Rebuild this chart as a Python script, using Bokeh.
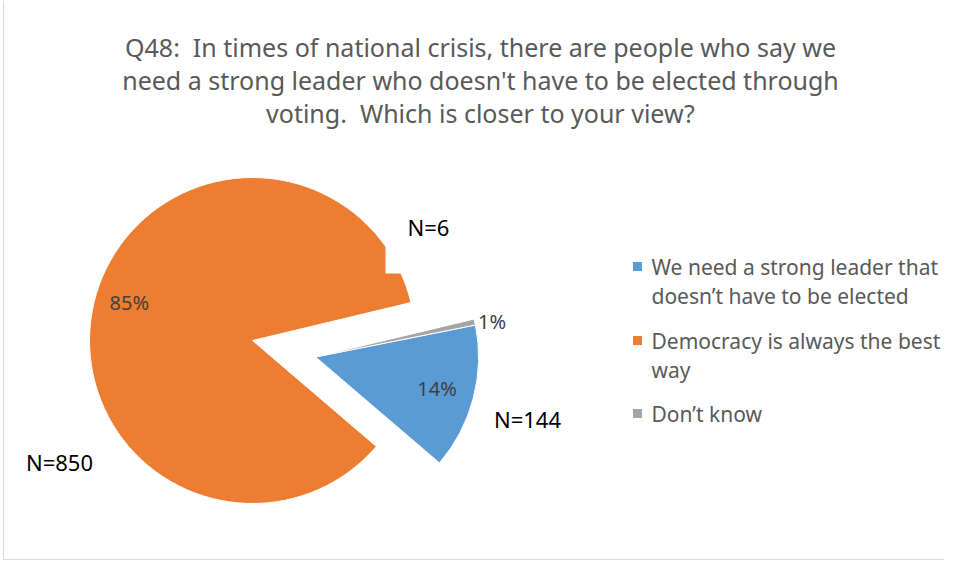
import math
from bokeh.plotting import figure
from bokeh.models import ColumnDataSource, Range1d
from bokeh.core.properties import value
from bokeh.embed import file_html
from bokeh.resources import INLINE

# ---- data ----
categories = ["We need a strong leader that doesn\u2019t have to be elected",
              "Democracy is always the best way",
              "Don\u2019t know"]
legend_lines = [["We need a strong leader that", "doesn\u2019t have to be elected"],
                ["Democracy is always the best", "way"],
                ["Don\u2019t know"]]
counts = [144, 850, 6]
pct_labels = ["14%", "85%", "1%"]
n_labels = ["N=144", "N=850", "N=6"]
colors = ["#5B9BD5", "#ED7D31", "#A5A5A5"]
exploded = [True, False, True]
title_lines = ["Q48:\u00a0 In times of national crisis, there are people who say we",
               "need a strong leader who doesn't have to be elected through",
               "voting.\u00a0 Which is closer to your view?"]

W, H = 944, 560
def Y(ys):  # screen y -> data y
    return H - ys

p = figure(width=W, height=H, output_backend="svg", toolbar_location=None,
           x_range=Range1d(0, W), y_range=Range1d(0, H), min_border=0,
           tools="")
p.axis.visible = False
p.grid.visible = False
p.outline_line_color = None
p.background_fill_color = "white"

# border lines (left & bottom visible in reference)
p.segment(x0=[3, 3], y0=[Y(559), Y(559)], x1=[3, W], y1=[Y(0), Y(559)],
          line_color="#d9d9d9", line_width=1.2)

# ---- pie geometry ----
cx, cy = 252, Y(340)
R = 163
first_angle = 78.7          # degrees clockwise from 12 o'clock
explode_frac = 0.4
total = sum(counts)
start = math.radians(90 - first_angle)
starts, ends, xs, ys, mids = [], [], [], [], []
a = start
for c in counts:
    sweep = 2 * math.pi * c / total
    s, e = a, a - sweep
    starts.append(s); ends.append(e)
    mids.append((s + e) / 2)
    a = e
# blue and gray share the blue slice's explosion offset
off_ang = mids[0]
ox = explode_frac * R * math.cos(off_ang)
oy = explode_frac * R * math.sin(off_ang)
for ex in exploded:
    xs.append(cx + (ox if ex else 0))
    ys.append(cy + (oy if ex else 0))

src = ColumnDataSource(dict(x=xs, y=ys, start=ends, end=starts, color=colors))
p.wedge(x="x", y="y", radius=R, start_angle="start", end_angle="end",
        fill_color="color", line_color="white", line_width=1.0, source=src)

# white text-box background covering part of orange (as in reference)
p.quad(left=[385], right=[455], top=[Y(200)], bottom=[Y(273)],
       fill_color="white", line_color=None)

# percent labels
font = value("Noto Sans")
lab_r = [0.77, 0.79, 1.02]
lx = [xs[i] + lab_r[i] * R * math.cos(mids[i]) for i in range(3)]
ly = [ys[i] + lab_r[i] * R * math.sin(mids[i]) for i in range(3)]
lx[1] = cx + 0.79 * R * math.cos(math.radians(163))
ly[1] = cy + 0.79 * R * math.sin(math.radians(163))
align = ["center", "center", "left"]
for i in range(3):
    p.text(x=[lx[i]], y=[ly[i]], text=[pct_labels[i]], text_font=font,
           text_font_size="20px", text_color="#404040",
           text_align=align[i], text_baseline="middle")

# N labels (manually placed text boxes in the original)
n_pos = [(527, 418), (59, 461), (428, 226)]
for lab, (nx, ny) in zip(n_labels, n_pos):
    p.text(x=[nx], y=[Y(ny)], text=[lab], text_font=font, text_font_size="22px",
           text_color="#000000", text_align="center", text_baseline="middle")

# title
for i, t in enumerate(title_lines):
    p.text(x=[480], y=[Y(46 + 33 * i)], text=[t], text_font=font,
           text_font_size="25px", text_color="#595959",
           text_align="center", text_baseline="middle")

# legend
leg_y = [266, 340, 413]
for i, lines in enumerate(legend_lines):
    p.rect(x=[637], y=[Y(leg_y[i])], width=9, height=9,
           fill_color=colors[i], line_color=None)
    for j, ln in enumerate(lines):
        p.text(x=[651], y=[Y(leg_y[i] + 29 * j)], text=[ln], text_font=font,
               text_font_size="21px", text_color="#595959",
               text_align="left", text_baseline="middle")

open("out.html", "w").write(file_html(p, INLINE))
